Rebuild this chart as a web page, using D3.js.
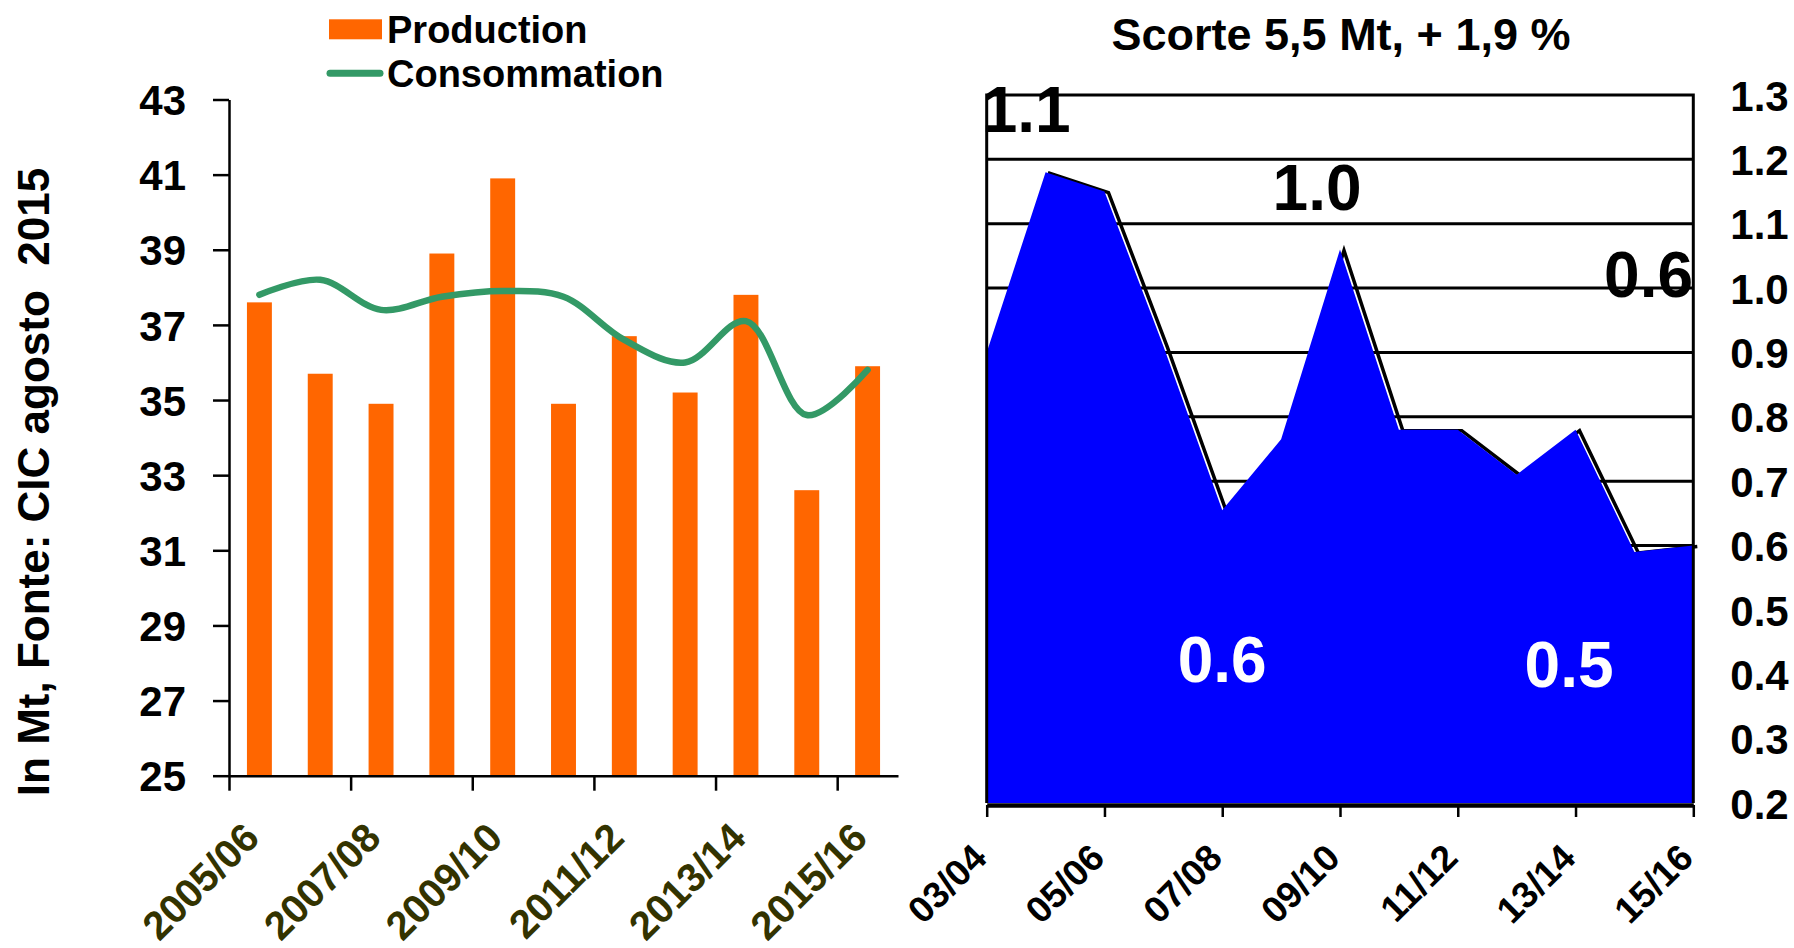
<!DOCTYPE html>
<html><head><meta charset="utf-8">
<script src="https://cdn.jsdelivr.net/npm/d3@7"></script>
<style>
body{margin:0;background:#fff}
svg{display:block}
text{font-family:"Liberation Sans",Arial,Helvetica,sans-serif;font-weight:bold}
</style>
</head><body>
<svg id="c" width="1794" height="948"></svg>
<script>
// ---------------- DATA ----------------
const seasons = ["2005/06","2006/07","2007/08","2008/09","2009/10","2010/11","2011/12","2012/13","2013/14","2014/15","2015/16"];
const production = [37.6,35.7,34.9,38.9,40.9,34.9,36.7,35.2,37.8,32.6,35.9];
const consommation = [37.8,38.2,37.4,37.75,37.9,37.75,36.6,36.0,37.1,34.6,35.8];
const productionTicks = [25,27,29,31,33,35,37,39,41,43];
const seasonLabels = ["2005/06","2007/08","2009/10","2011/12","2013/14","2015/16"];
const seriesNames = ["Production","Consommation"];
const leftAxisTitle = "In Mt, Fonte: CIC agosto  2015";

const stockYears = ["03/04","04/05","05/06","06/07","07/08","08/09","09/10","10/11","11/12","12/13","13/14","14/15","15/16"];
const stocks = [0.90,1.18,1.15,0.91,0.655,0.765,1.06,0.78,0.78,0.71,0.78,0.59,0.60];
const stockTicks = [0.2,0.3,0.4,0.5,0.6,0.7,0.8,0.9,1.0,1.1,1.2,1.3];
const stockLabelYears = ["03/04","05/06","07/08","09/10","11/12","13/14","15/16"];
const stockNotes = ["1.1","1.0","0.6","0.6","0.5"];
const rightTitle = "Scorte 5,5 Mt, + 1,9 %";

// ---------------- LAYOUT ----------------
const svg = d3.select("#c");
const ORANGE = "#FF6600", GREEN = "#339966", BLUE = "#0000FF", OLIVE = "#333300";

// Left chart scales
const xL = d3.scaleBand().domain(seasons).range([229, 898]).padding(0);
const xLb = d3.scaleLinear().domain([0, seasons.length]).range([229, 898]);
const yL = d3.scaleLinear().domain([25, 43]).range([775.7, 99.5]);
const barW = xL.bandwidth() * 0.41;

const gL = svg.append("g");
// bars
gL.selectAll("rect.bar").data(production).join("rect")
  .attr("class","bar")
  .attr("x", (d,i) => xL(seasons[i]) + (xL.bandwidth()-barW)/2)
  .attr("width", barW)
  .attr("y", d => yL(d))
  .attr("height", d => yL(25) - yL(d))
  .attr("fill", ORANGE);

// consumption line
const line = d3.line()
  .x((d,i) => xL(seasons[i]) + xL.bandwidth()/2)
  .y(d => yL(d))
  .curve(d3.curveCatmullRom.alpha(0.5));
gL.append("path").datum(consommation)
  .attr("d", line).attr("fill","none")
  .attr("stroke", GREEN).attr("stroke-width", 6.5)
  .attr("stroke-linecap","round").attr("stroke-linejoin","round");

// y axis
const axL = gL.append("g").attr("transform","translate(229,0)")
  .call(d3.axisLeft(yL).tickValues(productionTicks).tickSize(16).tickSizeOuter(0).tickPadding(27).tickFormat(d3.format("d")));
axL.select(".domain").attr("stroke","#000").attr("stroke-width",2.5);
axL.selectAll(".tick line").attr("stroke","#000").attr("stroke-width",2.5);
axL.selectAll(".tick text").attr("fill","#000").style("font-size","42px").attr("dy","0.36em");

// x axis
const axB = gL.append("g").attr("transform","translate(0,775.7)")
  .call(d3.axisBottom(xLb).tickValues([0,2,4,6,8,10]).tickSize(15).tickSizeOuter(0).tickFormat(""));
axB.select(".domain").attr("stroke","#000").attr("stroke-width",2.5);
axB.selectAll(".tick line").attr("stroke","#000").attr("stroke-width",2.5);

gL.selectAll("text.xl").data(seasonLabels).join("text")
  .attr("class","xl")
  .attr("transform", d => `translate(${xL(d) + xL.bandwidth()/2 + 2},840) rotate(-45)`)
  .attr("text-anchor","end")
  .attr("fill", OLIVE)
  .style("font-size","40px")
  .text(d => d);

// y axis title
svg.append("text")
  .attr("transform","translate(49,482) rotate(-90)")
  .attr("text-anchor","middle")
  .style("font-size","44px")
  .style("white-space","pre")
  .attr("xml:space","preserve")
  .text(leftAxisTitle);

// legend
svg.append("rect").attr("x",329).attr("y",19.3).attr("width",53).attr("height",20).attr("fill",ORANGE);
svg.append("line").attr("x1",330).attr("x2",380).attr("y1",73.3).attr("y2",73.3)
  .attr("stroke",GREEN).attr("stroke-width",7).attr("stroke-linecap","round");
svg.selectAll("text.leg").data(seriesNames).join("text")
  .attr("class","leg")
  .attr("x",387).attr("y",(d,i) => i ? 87.3 : 42.7)
  .style("font-size","38px")
  .text(d => d);

// ---------------- RIGHT CHART ----------------
const xR = d3.scalePoint().domain(stockYears).range([986.7, 1693.3]);
const yR = d3.scaleLinear().domain([0.2, 1.3]).range([803, 95]);
const gR = svg.append("g");

// gridlines
gR.selectAll("line.grid").data(stockTicks.filter(t => t > 0.25 && t < 1.25)).join("line")
  .attr("class","grid")
  .attr("x1", xR.range()[0]).attr("x2", xR.range()[1])
  .attr("y1", d => yR(d)).attr("y2", d => yR(d))
  .attr("stroke","#000").attr("stroke-width",3);

// dark edge behind area
const topLine = d3.line().x((d,i) => xR(stockYears[i])).y(d => yR(d));
gR.append("path").datum(stocks)
  .attr("d", topLine).attr("fill","none")
  .attr("stroke","#000").attr("stroke-width",3.5)
  .attr("transform","translate(4,1)");

// area
const area = d3.area().x((d,i) => xR(stockYears[i])).y0(yR(0.2)).y1(d => yR(d));
gR.append("path").datum(stocks).attr("d", area).attr("fill", BLUE);

// plot borders (top, left, right)
gR.append("path")
  .attr("d", `M${xR.range()[0]},${yR(0.2)} V${yR(1.3)} H${xR.range()[1]} V${yR(0.2)}`)
  .attr("fill","none").attr("stroke","#000").attr("stroke-width",3);

// bottom axis
const axR = gR.append("g").attr("transform",`translate(0,${yR(0.2)+2})`)
  .call(d3.axisBottom(xR).tickValues(stockLabelYears).tickSize(12).tickSizeOuter(0).tickFormat(""));
axR.select(".domain").attr("stroke","#000").attr("stroke-width",4.5);
axR.selectAll(".tick line").attr("stroke","#000").attr("stroke-width",2.5);

gR.selectAll("text.xr").data(stockLabelYears).join("text")
  .attr("class","xr")
  .attr("transform", d => `translate(${xR(d) + 2},860) rotate(-45)`)
  .attr("text-anchor","end")
  .attr("fill","#000")
  .style("font-size","37px")
  .text(d => d);

// right y axis labels
const axRy = gR.append("g").attr("transform",`translate(${xR.range()[1]},0)`)
  .call(d3.axisRight(yR).tickValues(stockTicks).tickSize(0).tickPadding(37).tickFormat(d3.format(".1f")));
axRy.select(".domain").remove();
axRy.selectAll(".tick text").attr("fill","#000").style("font-size","42px").attr("dy","0.36em");

// annotations (positioned in data space)
const noteIdx = [0.67, 5.61, 11.24, 4.0, 9.89];
const noteVal = [1.243, 1.121, 0.986, 0.388, 0.381];
const noteFill = ["#000","#000","#000","#fff","#fff"];
const step = xR.step();
gR.selectAll("text.note").data(stockNotes).join("text")
  .attr("class","note")
  .attr("x", (d,i) => xR(stockYears[0]) + noteIdx[i]*step)
  .attr("y", (d,i) => yR(noteVal[i]))
  .attr("text-anchor","middle")
  .attr("fill", (d,i) => noteFill[i])
  .style("font-size","64px")
  .text(d => d);

// title
svg.append("text").attr("x",1341).attr("y",50).attr("text-anchor","middle")
  .style("font-size","45px").text(rightTitle);
</script>
</body></html>
